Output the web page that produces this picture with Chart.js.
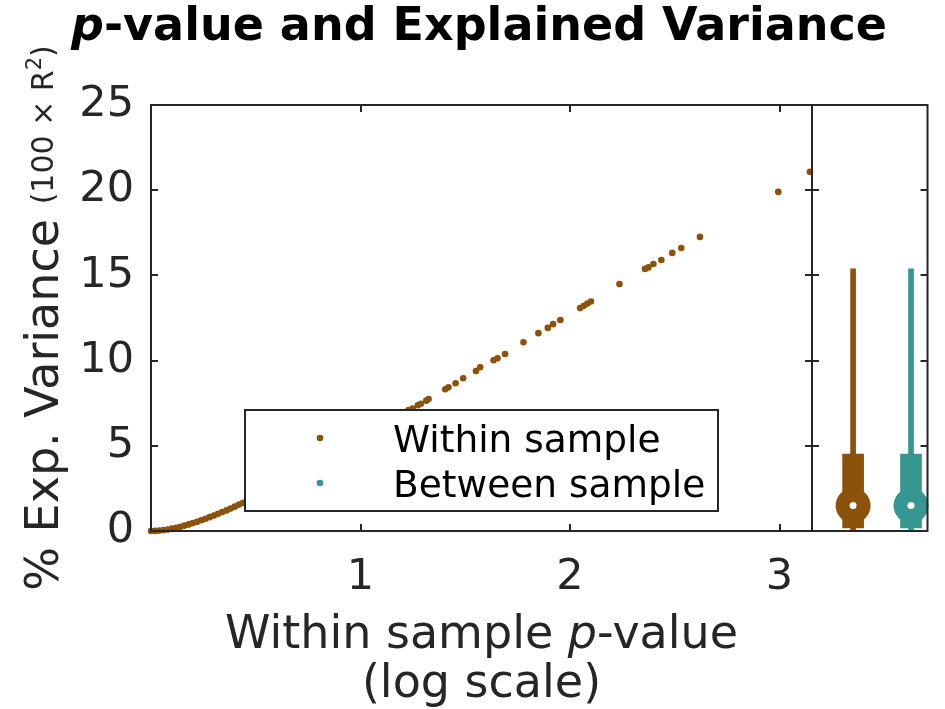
<!DOCTYPE html>
<html><head><meta charset="utf-8">
<script src="https://cdn.jsdelivr.net/npm/chart.js@4"></script>
<style>
html,body{margin:0;padding:0;background:#fff;}
#wrap{position:relative;width:945px;height:709px;background:#fff;}
#wrap canvas{position:absolute;left:0;top:0;}
</style></head><body>
<div id="wrap"><canvas id="main" width="945" height="709"></canvas><canvas id="side" width="945" height="709"></canvas></div>
<script>
// ---- data ----
const withinX = [0,0.02,0.04,0.06,0.08,0.10,0.12,0.14,0.16,0.18,0.20,0.22,0.24,0.26,0.28,0.30,0.32,0.34,0.36,0.38,0.40,0.42,0.44,
  0.50,0.55,0.60,0.65,0.70,0.75,0.80,0.85,0.90,0.95,1.00,1.05,1.10,1.15,1.20,
  1.229,1.249,1.274,1.288,1.314,1.325,1.404,1.420,1.454,1.490,1.551,1.571,1.635,1.654,1.690,1.778,1.849,1.894,1.919,1.954,
  2.048,2.066,2.083,2.100,2.236,2.358,2.374,2.398,2.436,2.488,2.531,2.620,2.994,3.145];
const withinY = [0,0.006,0.024,0.053,0.09,0.137,0.19,0.251,0.316,0.387,0.464,0.545,0.631,0.72,0.813,0.909,1.008,1.11,1.21,1.32,1.43,1.55,1.66,
  2.01,2.32,2.63,2.95,3.28,3.61,3.95,4.30,4.65,5.02,5.40,5.76,6.12,6.50,6.88,
  7.10,7.18,7.38,7.47,7.65,7.75,8.32,8.43,8.67,8.96,9.39,9.61,10.02,10.14,10.39,11.08,11.61,11.92,12.14,12.38,
  13.08,13.22,13.35,13.47,14.49,15.38,15.47,15.67,15.90,16.32,16.61,17.26,19.90,21.08];
const betweenX = [0,0.02,0.04,0.06,0.08,0.10,0.12,0.14,0.16,0.18,0.20,0.22,0.24,0.26,0.28,0.30,0.32,0.34,0.36,0.38,0.40,0.42,0.44];
const betweenY = [0,0.006,0.024,0.053,0.09,0.137,0.19,0.251,0.316,0.387,0.464,0.545,0.631,0.72,0.813,0.909,1.008,1.11,1.21,1.32,1.43,1.55,1.66];
const xTickValues = [1, 2, 3];
const yTickValues = [0, 5, 10, 15, 20, 25];
const seriesNames = ['Within sample', 'Between sample'];
const whiskerLow  = [0, 0];
const whiskerHigh = [15.38, 15.38];
const q1 = [0.18, 0.18];
const q3 = [4.51, 4.51];
const medians = [1.49, 1.49];
const titleRuns = ['p', '-value and Explained Variance'];
const xLabelRuns = ['Within sample ', 'p', '-value'];
const xLabelLine2 = '(log scale)';
const yLabelMain = '% Exp. Variance ';
const yLabelSmall = ['(100 \u00D7 R', '2', ')'];

// ---- styling ----
const BROWN = '#8c510a', TEAL = '#35978f', AX = '#262626';
const FONT = "'DejaVu Sans', 'Liberation Sans', sans-serif";
const colors = [BROWN, TEAL];

function pts(xs, ys){ return xs.map((x, i) => ({x: x, y: ys[i]})); }

function framePlugin(withX){
  return {
    id: 'frame',
    afterDatasetsDraw(chart){
      const ctx = chart.ctx, a = chart.chartArea, sx = chart.scales.x, sy = chart.scales.y;
      ctx.save();
      ctx.strokeStyle = AX; ctx.lineWidth = 2;
      ctx.beginPath();
      if (withX) xTickValues.forEach(v => {
        const px = Math.round(sx.getPixelForValue(v));
        ctx.moveTo(px, a.bottom); ctx.lineTo(px, a.bottom - 7);
        ctx.moveTo(px, a.top); ctx.lineTo(px, a.top + 7);
      });
      yTickValues.forEach(v => {
        const py = Math.round(sy.getPixelForValue(v));
        ctx.moveTo(a.left, py); ctx.lineTo(a.left + 7, py);
        ctx.moveTo(a.right, py); ctx.lineTo(a.right - 7, py);
      });
      ctx.stroke();
      ctx.strokeRect(a.left, a.top, a.right - a.left, a.bottom - a.top);
      ctx.restore();
    }
  };
}

const legendPlugin = {
  id: 'legendBox',
  afterDatasetsDraw(chart){
    const ctx = chart.ctx;
    ctx.save();
    ctx.fillStyle = '#fff'; ctx.fillRect(245, 410, 473, 101);
    ctx.strokeStyle = AX; ctx.lineWidth = 2; ctx.strokeRect(245, 410, 473, 101);
    chart.data.datasets.forEach((ds, i) => {
      const y = 438 + i * 45;
      ctx.beginPath(); ctx.arc(320, y, 3.3, 0, Math.PI * 2);
      ctx.fillStyle = ds.backgroundColor; ctx.fill();
      ctx.fillStyle = '#000'; ctx.font = '37.5px ' + FONT;
      ctx.textAlign = 'left'; ctx.textBaseline = 'alphabetic';
      ctx.fillText(ds.label, 393, y + 13.5);
    });
    ctx.restore();
  }
};

function drawRuns(ctx, runs, cx, y){
  let total = 0;
  runs.forEach(r => { ctx.font = r.font; r.w = ctx.measureText(r.t).width; total += r.w; });
  let x = cx - total / 2;
  runs.forEach(r => { ctx.font = r.font; ctx.fillText(r.t, x, y + (r.dy || 0)); x += r.w; });
}

const textPlugin = {
  id: 'texts',
  afterDraw(chart){
    const ctx = chart.ctx, a = chart.chartArea;
    ctx.save();
    ctx.textAlign = 'left'; ctx.textBaseline = 'alphabetic';
    // title
    ctx.fillStyle = '#000';
    drawRuns(ctx, [
      {t: titleRuns[0], font: 'italic bold 46px ' + FONT},
      {t: titleRuns[1], font: 'bold 46px ' + FONT}
    ], 479, 40);
    // x label
    ctx.fillStyle = AX;
    const cx = (a.left + a.right) / 2;
    drawRuns(ctx, [
      {t: xLabelRuns[0], font: '46px ' + FONT},
      {t: xLabelRuns[1], font: 'italic 46px ' + FONT},
      {t: xLabelRuns[2], font: '46px ' + FONT}
    ], cx, 648);
    drawRuns(ctx, [{t: xLabelLine2, font: '46px ' + FONT}], cx, 697);
    // y label
    ctx.translate(58, (a.top + a.bottom) / 2);
    ctx.rotate(-Math.PI / 2);
    drawRuns(ctx, [
      {t: yLabelMain, font: '46px ' + FONT},
      {t: yLabelSmall[0], font: '30px ' + FONT, dy: -5},
      {t: yLabelSmall[1], font: '21px ' + FONT, dy: -17},
      {t: yLabelSmall[2], font: '30px ' + FONT, dy: -5}
    ], 0, 0);
    ctx.restore();
  }
};

Chart.defaults.font.family = FONT;

new Chart(document.getElementById('main'), {
  type: 'scatter',
  data: {
    datasets: [
      {label: seriesNames[0], data: pts(withinX, withinY), backgroundColor: BROWN, borderColor: BROWN,
       pointRadius: 3.3, pointBorderWidth: 0, clip: {left: false, top: 0, right: 0, bottom: false}},
      {label: seriesNames[1], data: pts(betweenX, betweenY), backgroundColor: TEAL, borderColor: TEAL,
       pointRadius: 2.8, pointBorderWidth: 0, clip: {left: false, top: 0, right: 0, bottom: false}}
    ]
  },
  options: {
    responsive: false, animation: false, events: [],
    layout: {padding: {left: 0, top: 105, right: 133, bottom: 0}},
    plugins: {legend: {display: false}, tooltip: {enabled: false}},
    scales: {
      x: {
        type: 'linear', min: 0, max: 3.155,
        grid: {display: false, drawTicks: false}, border: {display: false},
        ticks: {color: AX, font: {size: 43}, padding: 21, maxRotation: 0},
        afterBuildTicks: s => { s.ticks = xTickValues.map(v => ({value: v})); },
        afterFit: s => { s.height = 178; }
      },
      y: {
        type: 'linear', min: 0, max: 25,
        grid: {display: false, drawTicks: false}, border: {display: false},
        ticks: {color: AX, font: {size: 43}, padding: 17},
        afterBuildTicks: s => { s.ticks = yTickValues.map(v => ({value: v})); },
        afterFit: s => { s.width = 151; }
      }
    }
  },
  plugins: [framePlugin(true), legendPlugin, textPlugin]
});

new Chart(document.getElementById('side'), {
  type: 'bar',
  data: {
    datasets: [
      {type: 'scatter', label: 'median centre', data: medians.map((m, i) => ({x: i + 1, y: m})),
       pointRadius: 3.5, pointBackgroundColor: '#fff', pointBorderWidth: 0, clip: false},
      {type: 'scatter', label: 'median', data: medians.map((m, i) => ({x: i + 1, y: m})),
       pointRadius: 17.5, pointBackgroundColor: colors, pointBorderWidth: 0, clip: false},
      {type: 'bar', label: 'IQR', data: q1.map((v, i) => ({x: i + 1, y: [v, q3[i]]})),
       backgroundColor: colors, barThickness: 21, grouped: false, borderWidth: 0},
      {type: 'bar', label: 'range', data: whiskerLow.map((v, i) => ({x: i + 1, y: [v, whiskerHigh[i]]})),
       backgroundColor: colors, barThickness: 5, grouped: false, borderWidth: 0}
    ]
  },
  options: {
    responsive: false, animation: false, events: [],
    layout: {padding: {left: 812, top: 105, right: 14, bottom: 178}},
    plugins: {legend: {display: false}, tooltip: {enabled: false}},
    scales: {
      x: {type: 'linear', min: 0.29, max: 2.285, offset: false, display: false},
      y: {type: 'linear', min: 0, max: 25, display: false}
    }
  },
  plugins: [framePlugin(false)]
});
</script>
</body></html>
